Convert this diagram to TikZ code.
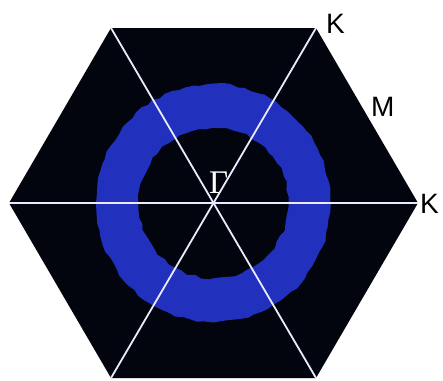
\documentclass[tikz,border=0pt]{standalone}
\usepackage{fontspec}
\setsansfont{Liberation Sans}
\newfontfamily\gamfont{Liberation Serif}
\usepackage{tikz}
\usetikzlibrary{positioning,decorations.pathmorphing}
\definecolor{ringcol}{RGB}{34,48,190}
\definecolor{bzcol}{RGB}{2,4,14}

\begin{document}
\begin{tikzpicture}[x=1pt, y=-1pt,
  zone/.style={fill=bzcol, draw=none},
  ring/.style={fill=ringcol, even odd rule,
               decorate, decoration={random steps, segment length=7pt, amplitude=1.3pt}},
  sym/.style={font=\sffamily\fontsize{28}{32}\selectfont, text=black, inner sep=0pt, anchor=base west},
  axis/.style={draw=white!92!blue, line width=1.8pt}
]
\useasboundingbox (0,0) rectangle (443,380);
\pgfmathsetseed{7}

% hexagon corners
\coordinate (tl) at (111, 28);
\coordinate (tr) at (316, 28);
\coordinate (r)  at (418,203);
\coordinate (br) at (316,378);
\coordinate (bl) at (111,378);
\coordinate (l)  at (9,  203);
\coordinate (g)  at (213.5,203);

\fill[zone] (tl) -- (tr) -- (r) -- (br) -- (bl) -- (l) -- cycle;

% spectral ring
\path[ring] (g) circle[x radius=117pt, y radius=119pt] (g) circle[radius=75pt];

% high-symmetry lines
\draw[axis] (l)  -- (r);
\draw[axis] (tl) -- (br);
\draw[axis] (tr) -- (bl);

\node[font=\gamfont\fontsize{33}{36}\selectfont, text=white, inner sep=0pt, anchor=base west]
  (gam) at (209,193) {Γ};
\node[sym] (ktop) at (326,33) {K};
\node[sym] (m) at (371,116) {M};
\node[sym] (kr) at (420,213) {K};

\end{tikzpicture}
\end{document}
